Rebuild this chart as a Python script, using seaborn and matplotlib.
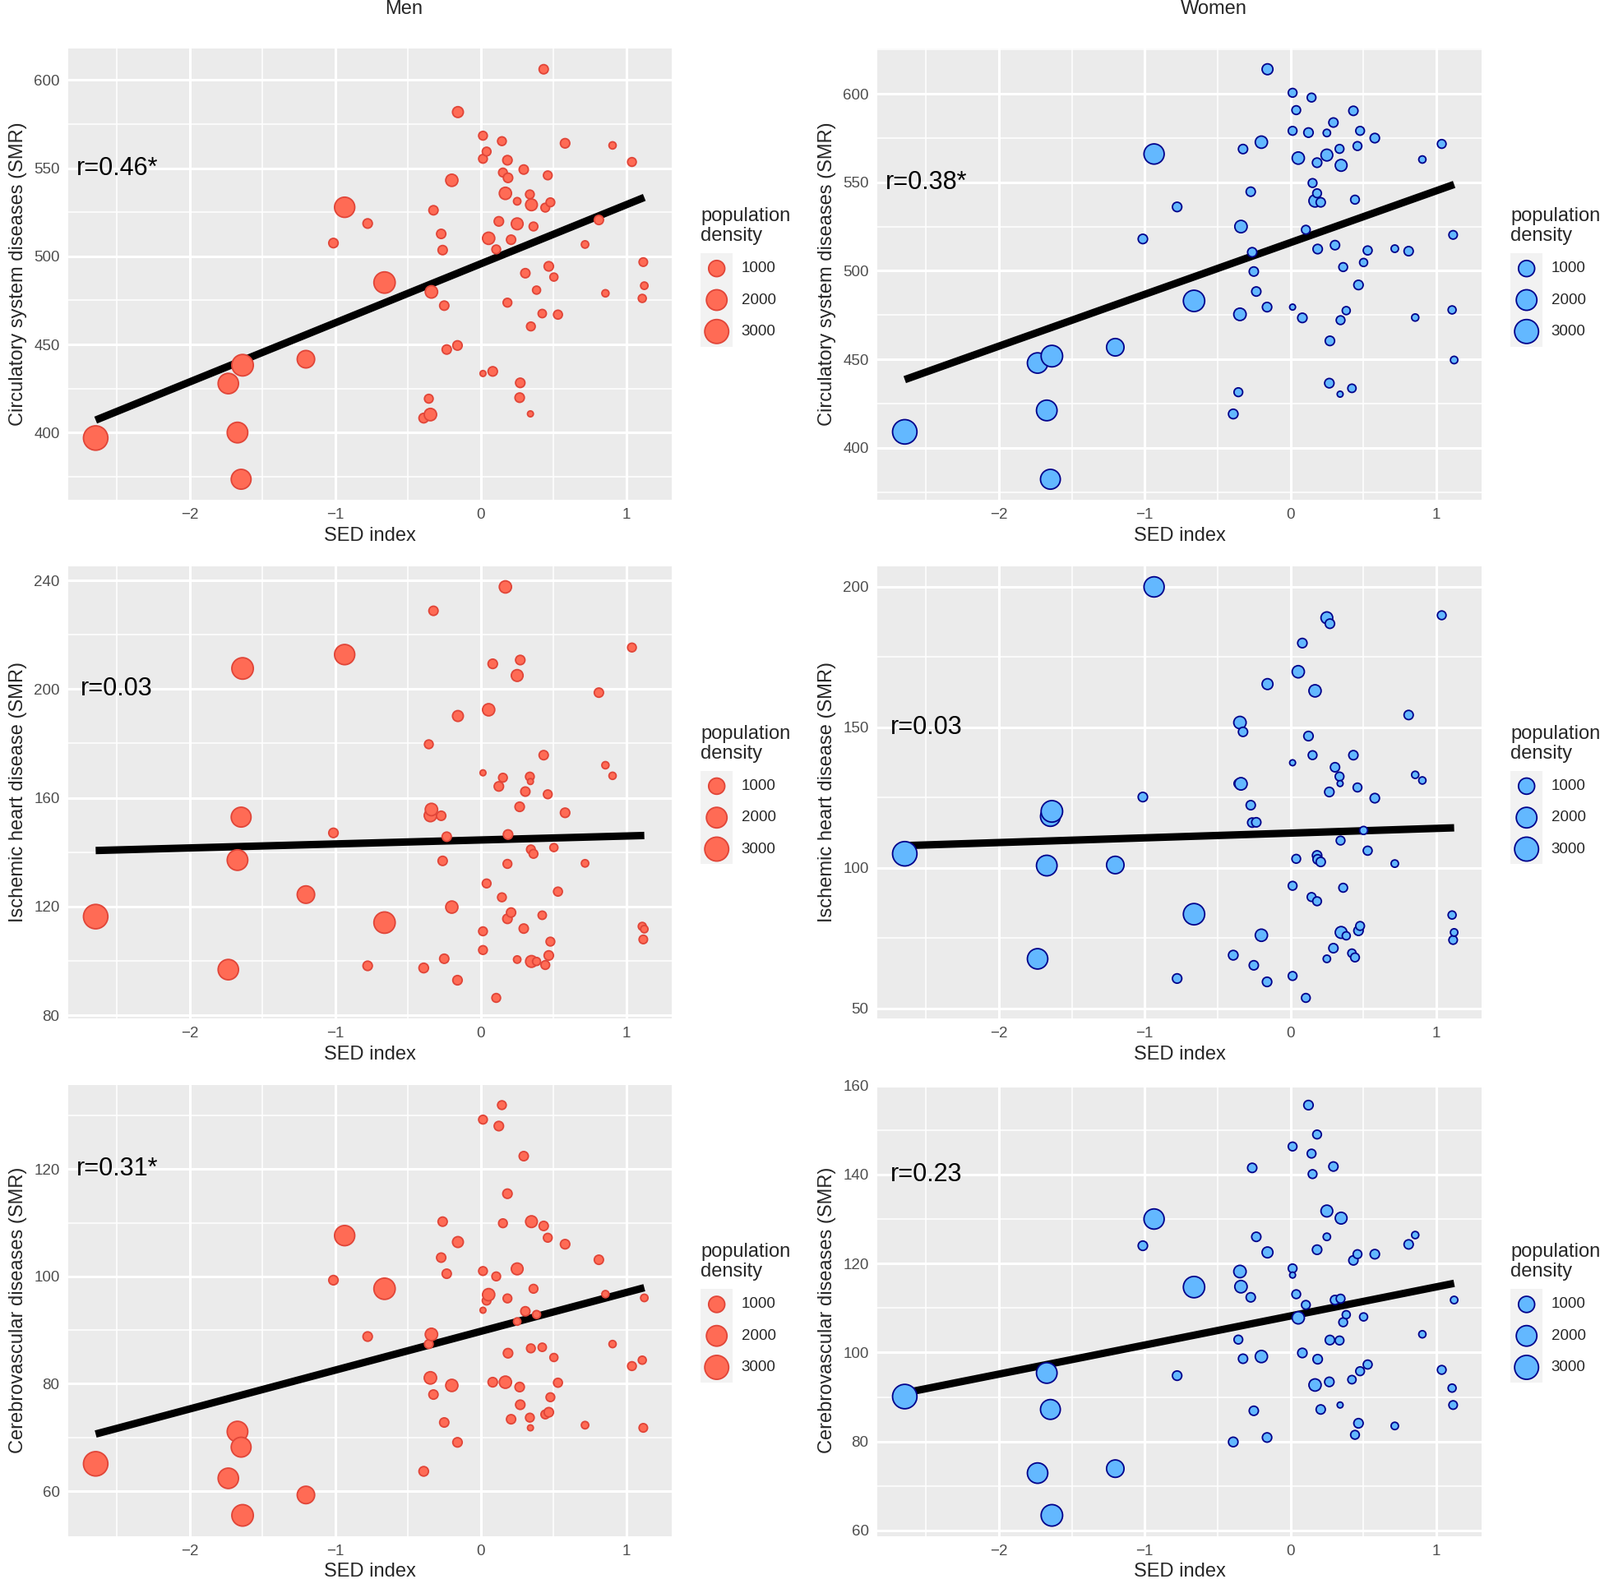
import numpy as np
import pandas as pd
import matplotlib
matplotlib.use("Agg")
import matplotlib.pyplot as plt
from matplotlib.patches import Rectangle
from matplotlib.ticker import MultipleLocator
import seaborn as sns

# ---- data (one entry per region, same order in every array) ----
sed_index = [
    -2.646, -1.735, -1.672, -1.647, -1.637, -1.202, -1.013, -0.936, -0.778, -0.662,
    -0.393, -0.358, -0.347, -0.340, -0.326, -0.273, -0.263, -0.252, -0.235, -0.200,
    -0.161, -0.158, 0.014, 0.014, 0.014, 0.039, 0.053, 0.081, 0.105, 0.123,
    0.144, 0.151, 0.168, 0.182, 0.182, 0.186, 0.207, 0.249, 0.249, 0.266,
    0.270, 0.294, 0.305, 0.336, 0.340, 0.343, 0.347, 0.361, 0.382, 0.421,
    0.431, 0.442, 0.459, 0.466, 0.477, 0.501, 0.529, 0.578, 0.715, 0.810,
    0.855, 0.904, 1.037, 1.108, 1.115, 1.122]

pop_density = [
    3150, 1950, 2000, 1800, 2250, 1250, 150, 1900, 150, 2200,
    160, 110, 420, 420, 140, 140, 140, 140, 140, 400,
    150, 260, 110, 110, 40, 110, 400, 150, 110, 150,
    110, 110, 400, 150, 110, 150, 140, 60, 350, 150,
    150, 140, 140, 110, 40, 110, 350, 110, 80, 90,
    140, 110, 110, 150, 110, 80, 120, 150, 60, 140,
    55, 55, 110, 80, 100, 60]

men_circulatory = [
    396.9, 427.8, 400.0, 373.5, 438.2, 441.6, 507.5, 527.8, 518.6, 485.1,
    408.2, 419.2, 410.2, 479.8, 526.1, 512.7, 503.5, 472.0, 447.1, 543.1,
    449.4, 581.8, 568.4, 555.3, 433.5, 559.4, 510.2, 434.7, 503.9, 519.8,
    565.3, 547.5, 535.7, 554.5, 473.7, 544.5, 509.4, 531.2, 518.4, 419.8,
    428.2, 549.2, 490.4, 535.1, 410.6, 460.2, 529.2, 516.9, 480.8, 467.5,
    606.1, 527.6, 545.9, 494.3, 530.6, 488.2, 466.9, 564.1, 506.7, 520.6,
    479.0, 562.9, 553.5, 476.1, 496.7, 483.3]

men_ischemic = [
    116.3, 96.8, 137.1, 152.9, 207.6, 124.4, 147.1, 212.7, 98.2, 114.1,
    97.4, 179.7, 153.5, 155.7, 228.8, 153.4, 136.8, 100.8, 145.7, 119.8,
    92.9, 190.1, 110.9, 104.0, 169.2, 128.5, 192.4, 209.3, 86.4, 164.2,
    123.4, 167.4, 237.6, 115.5, 135.7, 146.5, 117.8, 100.5, 205.0, 156.7,
    210.7, 111.9, 162.3, 167.8, 166.0, 141.0, 99.8, 139.4, 99.8, 116.8,
    175.7, 98.5, 161.3, 102.0, 107.1, 141.7, 125.5, 154.5, 135.9, 198.7,
    172.0, 168.1, 215.3, 112.7, 107.9, 111.7]

men_cerebro = [
    65.1, 62.4, 71.1, 68.2, 55.5, 59.3, 99.3, 107.6, 88.8, 97.7,
    63.7, 87.4, 81.1, 89.2, 78.0, 103.5, 110.2, 72.8, 100.5, 79.7,
    69.1, 106.4, 129.2, 101.0, 93.7, 95.5, 96.6, 80.3, 100.0, 128.0,
    131.9, 109.9, 80.3, 115.4, 95.9, 85.7, 73.4, 91.6, 101.4, 79.4,
    76.1, 122.4, 93.5, 73.7, 71.8, 86.6, 110.2, 97.7, 92.9, 86.8,
    109.4, 74.3, 107.2, 74.7, 77.5, 84.9, 80.2, 106.0, 72.3, 103.1,
    96.7, 87.4, 83.3, 84.4, 71.8, 96.0]

women_circulatory = [
    409.0, 447.9, 421.1, 382.2, 451.8, 456.8, 518.0, 566.0, 536.1, 483.0,
    419.1, 431.4, 475.4, 525.0, 568.8, 544.7, 510.5, 499.6, 488.3, 572.7,
    479.5, 613.9, 600.6, 579.1, 479.5, 590.8, 563.7, 473.4, 523.2, 578.1,
    597.9, 549.6, 539.5, 561.1, 543.8, 512.3, 538.7, 577.9, 565.4, 436.5,
    460.4, 583.8, 514.5, 568.9, 430.3, 472.1, 559.6, 502.1, 477.5, 433.6,
    590.4, 540.2, 570.5, 492.0, 579.1, 504.7, 511.5, 575.0, 512.5, 511.1,
    473.6, 562.9, 571.7, 477.9, 520.3, 449.6]

women_ischemic = [
    105.0, 67.6, 100.8, 118.3, 120.1, 101.0, 125.2, 200.0, 60.6, 83.5,
    68.9, 130.0, 151.7, 129.9, 148.4, 122.3, 116.1, 65.3, 116.2, 76.0,
    59.4, 165.4, 93.6, 61.5, 137.4, 103.2, 169.8, 180.0, 53.7, 146.9,
    89.6, 140.1, 163.0, 104.4, 88.1, 103.0, 102.1, 67.6, 189.0, 127.0,
    186.9, 71.4, 135.8, 132.5, 130.0, 109.7, 77.0, 92.9, 75.8, 69.6,
    140.1, 68.1, 128.6, 77.6, 79.3, 113.3, 106.1, 124.8, 101.5, 154.4,
    133.1, 131.1, 189.9, 83.2, 74.3, 77.0]

women_cerebro = [
    90.1, 72.9, 95.4, 87.2, 63.4, 73.9, 124.0, 130.0, 94.8, 114.7,
    79.9, 102.9, 118.2, 114.8, 98.6, 112.4, 141.5, 86.9, 126.0, 99.1,
    80.9, 122.5, 146.3, 118.9, 117.4, 113.1, 107.8, 99.9, 110.7, 155.6,
    144.7, 140.1, 92.7, 123.1, 149.0, 98.5, 87.2, 126.0, 131.8, 93.4,
    102.8, 141.8, 111.8, 102.7, 88.2, 112.1, 130.2, 106.8, 108.5, 93.9,
    120.7, 81.5, 122.1, 84.1, 95.8, 108.0, 97.3, 122.1, 83.5, 124.3,
    126.4, 104.1, 96.1, 92.0, 88.2, 111.8]

legend_values = [1000, 2000, 3000]

# ---- style ----
DPI = 100
sns.set_style("darkgrid")
plt.rcParams['font.family'] = ['Liberation Sans', 'DejaVu Sans']

MEN_FILL, MEN_EDGE = '#FF6B55', '#E04538'
WOMEN_FILL, WOMEN_EDGE = '#63B8FF', '#00008B'
EDGE_LW = 1.3
D_MIN, D_MAX = 9.0, 31.5   # point diameter in px (ggplot-like sqrt scale)


def marker_area(v):
    lo, hi = min(pop_density), max(pop_density)
    frac = np.sqrt(np.clip((v - lo) / (hi - lo), 0, 1))
    d_pt = (D_MIN + (D_MAX - D_MIN) * frac) * 72 / DPI - EDGE_LW
    return d_pt ** 2


size_map = {v: float(marker_area(v)) for v in sorted(set(pop_density))}

W, H = 1946, 1938
fig = plt.figure(figsize=(W / DPI, H / DPI), dpi=DPI)
fig.patch.set_facecolor('white')

col_left = [(83, 734), (1067, 735)]
row_tb = [(59.3, 608.0), (689.0, 1239.0), (1319.5, 1868.5)]

panels = [
    (0, 0, men_circulatory, "Circulatory system diseases (SMR)", 50, "r=0.46*", 550, MEN_FILL, MEN_EDGE),
    (0, 1, women_circulatory, "Circulatory system diseases (SMR)", 50, "r=0.38*", 550, WOMEN_FILL, WOMEN_EDGE),
    (1, 0, men_ischemic, "Ischemic heart disease (SMR)", 40, "r=0.03", 200, MEN_FILL, MEN_EDGE),
    (1, 1, women_ischemic, "Ischemic heart disease (SMR)", 50, "r=0.03", 150, WOMEN_FILL, WOMEN_EDGE),
    (2, 0, men_cerebro, "Cerebrovascular diseases (SMR)", 20, "r=0.31*", 120, MEN_FILL, MEN_EDGE),
    (2, 1, women_cerebro, "Cerebrovascular diseases (SMR)", 20, "r=0.23", 140, WOMEN_FILL, WOMEN_EDGE),
]

for row, col, smr, ylabel, step, r_txt, r_y, fill, edge in panels:
    left, width = col_left[col]
    top, bottom = row_tb[row]
    ax_h = bottom - top
    ax = fig.add_axes([left / W, 1 - bottom / H, width / W, ax_h / H])
    df = pd.DataFrame({'sed': sed_index, 'density': pop_density, 'smr': smr})

    # regression line (under the points)
    sns.regplot(data=df, x='sed', y='smr', scatter=False, ci=None, ax=ax,
                color='black', line_kws={'linewidth': 6.5, 'solid_capstyle': 'butt', 'zorder': 2})
    sns.scatterplot(data=df, x='sed', y='smr', size='density', sizes=size_map,
                    color=fill, edgecolor=edge, linewidth=EDGE_LW, alpha=1,
                    legend=False, ax=ax, zorder=3)

    ax.set_facecolor('#EBEBEB')
    for s in ax.spines.values():
        s.set_visible(False)
    ax.margins(0.05)
    ax.xaxis.set_major_locator(MultipleLocator(1))
    ax.xaxis.set_minor_locator(MultipleLocator(0.5))
    ax.yaxis.set_major_locator(MultipleLocator(step))
    ax.yaxis.set_minor_locator(MultipleLocator(step / 2))
    ax.grid(which='major', color='white', linewidth=2.2)
    ax.grid(which='minor', color='white', linewidth=1.1)
    ax.set_axisbelow(True)
    ax.tick_params(which='major', length=4, width=1.1, color='#333333',
                   labelsize=13.5, labelcolor='#4D4D4D', pad=3.5)
    ax.tick_params(which='minor', length=0)
    ax.set_xticklabels([f"{int(t)}".replace('-', '\u2212') for t in ax.get_xticks()])
    ax.set_xlabel("SED index", fontsize=17, labelpad=4)
    ax.set_ylabel(ylabel, fontsize=17, labelpad=6)

    ax.text(-2.5, r_y, r_txt, ha='center', va='center', fontsize=22, color='black', zorder=4)

    # freeze limits before drawing the legend outside the panel
    ax.set_xlim(*ax.get_xlim())
    ax.set_ylim(*ax.get_ylim())

    def frac_y(y_ref):
        # y given in row-1 pixel coordinates -> axes fraction of this panel
        return (bottom - (y_ref - 59.3 + top)) / ax_h

    x0 = 1 + 35 / width
    ax.text(x0, frac_y(298), "population\ndensity", transform=ax.transAxes,
            ha='left', va='bottom', fontsize=17, linespacing=1.1)
    box_top, box_bot = frac_y(308), frac_y(421.7)
    ax.add_patch(Rectangle((x0, box_bot), 39 / width, box_top - box_bot, transform=ax.transAxes,
                           facecolor='#F2F2F2', edgecolor='none', clip_on=False, zorder=1))
    key_y = [frac_y(yy) for yy in (326.7, 365.0, 403.3)]
    ax.scatter([1 + 54.7 / width] * 3, key_y, s=[marker_area(v) for v in legend_values],
               color=fill, edgecolor=edge, linewidth=EDGE_LW, transform=ax.transAxes,
               clip_on=False, zorder=3)
    for v, yy in zip(legend_values, key_y):
        ax.text(1 + 84.7 / width, yy, str(v), transform=ax.transAxes,
                ha='left', va='center', fontsize=13.5)

fig.text(491 / W, 1 - 11 / H, "Men", ha='center', va='center', fontsize=17)
fig.text(1476 / W, 1 - 11 / H, "Women", ha='center', va='center', fontsize=17)

fig.savefig("out.png", dpi=DPI, facecolor='white')
